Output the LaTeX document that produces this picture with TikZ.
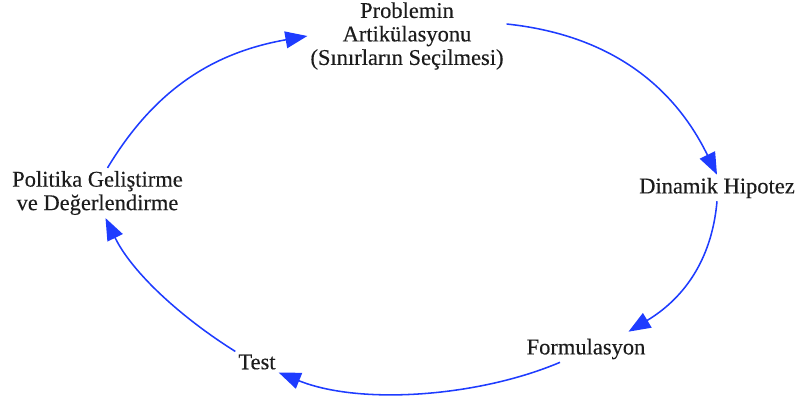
\documentclass[tikz,border=0pt]{standalone}
\usepackage{fontspec}
\setmainfont{Liberation Serif}
\newfontfamily\lblfont[FakeBold=0.3]{Liberation Serif}
\usepackage{xcolor}
\usetikzlibrary{arrows.meta,positioning,calc}

\definecolor{cycleblue}{RGB}{30,60,255}
\definecolor{txtgray}{RGB}{28,28,28}

\begin{document}
\begin{tikzpicture}[
    lbl/.style={align=center, inner sep=2pt, text=txtgray, font=\lblfont\fontsize{16}{16.7}\selectfont},
    arrow/.style={-{Triangle[length=5.5mm, width=4.2mm]}, line width=1.1pt, draw=cycleblue}
]
    \useasboundingbox (0,0) rectangle (20,10.075);

    \node [lbl] (prob) at (10.175,9.175) {Problemin\\Artikülasyonu\\(Sınırların Seçilmesi)};
    \node [lbl] (dh)   at (17.925,5.375) {Dinamik Hipotez};
    \node [lbl] (form) at (14.65,1.35)  {Formulasyon};
    \node [lbl] (test) at (6.425,1.025) {Test};
    \node [lbl] (pol)  at (2.4375,5.25) {Politika Geliştirme\\ve Değerlendirme};

    \draw [arrow] ([yshift=3mm]prob.east) to[out=-6, in=116] (dh.north);
    \draw [arrow] (dh.south) to[out=-95, in=31] ([xshift=-5mm,yshift=1mm]form.north east);
    \draw [arrow] ([xshift=-6.5mm]form.south) to[out=203, in=-22, looseness=0.8] (test.south east);
    \draw [arrow] (test.north west) to[out=148, in=-64, looseness=0.85] ([xshift=2mm]pol.south);
    \draw [arrow] ([xshift=2.5mm]pol.north) to[out=59, in=190] (prob.west);
\end{tikzpicture}
\end{document}
